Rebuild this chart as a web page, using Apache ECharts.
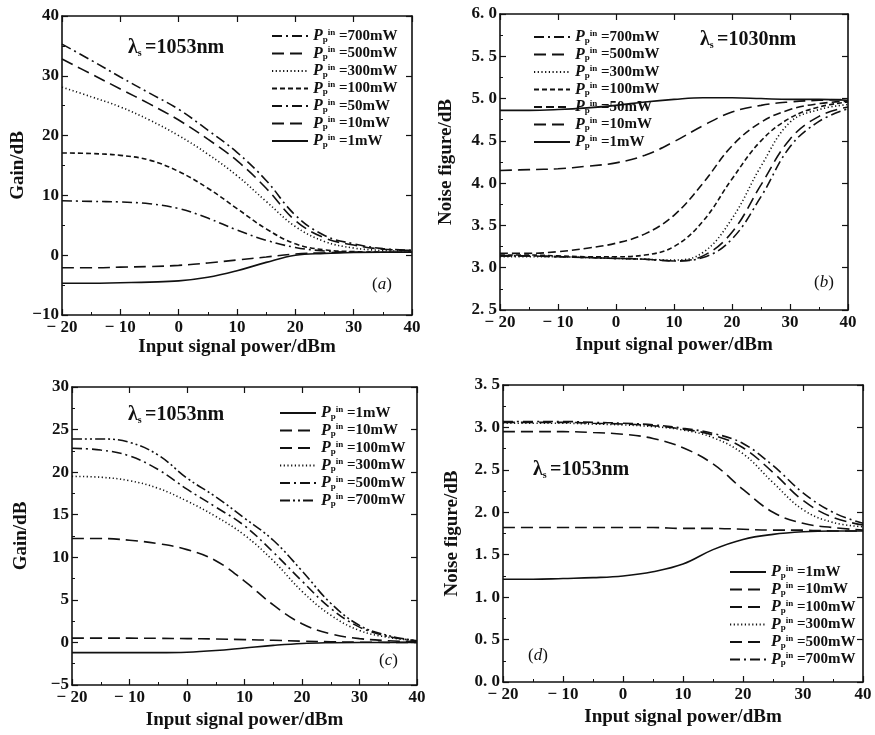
<!DOCTYPE html>
<html><head><meta charset="utf-8">
<script src="https://cdn.jsdelivr.net/npm/echarts@6/dist/echarts.min.js"></script>
<style>html,body{margin:0;padding:0;background:#fff}#c{width:875px;height:735px}</style>
</head><body><div id="c"></div>
<script>
// Input signal power (dBm) sample positions
const xs = [-20,-15,-10,-5,0,5,10,15,20,25,30,35,40];
const xTicks = [-20,-10,0,10,20,30,40];

// (a) Gain, lambda_s = 1053nm
const a_700 = [35.3,32.6,29.8,27.1,24.4,20.9,17.2,12.5,6.7,3.3,1.9,1.1,0.8];
const a_500 = [32.8,30.3,27.8,25.3,22.6,19.4,15.8,11.2,5.8,2.9,1.7,1.0,0.8];
const a_300 = [28.1,26.5,24.8,22.6,20.0,16.9,13.3,9.0,4.8,2.3,1.2,0.8,0.7];
const a_100 = [17.1,17.0,16.7,15.9,14.0,11.2,7.8,4.4,1.9,0.9,0.6,0.5,0.5];
const a_50  = [9.1,9.0,8.9,8.6,7.8,6.2,4.2,2.5,1.3,0.7,0.5,0.5,0.5];
const a_10  = [-2.1,-2.1,-2.0,-1.9,-1.7,-1.3,-0.8,-0.3,0.2,0.4,0.5,0.5,0.5];
const a_1   = [-4.7,-4.7,-4.6,-4.5,-4.3,-3.7,-2.6,-1.2,0.0,0.3,0.45,0.5,0.5];

// (b) Noise figure, lambda_s = 1030nm
const b_700 = [3.14,3.14,3.13,3.12,3.11,3.10,3.08,3.12,3.34,3.84,4.43,4.73,4.88];
const b_500 = [3.14,3.14,3.13,3.12,3.11,3.10,3.08,3.14,3.42,3.98,4.52,4.79,4.90];
const b_300 = [3.13,3.13,3.13,3.12,3.11,3.10,3.09,3.18,3.58,4.20,4.72,4.87,4.93];
const b_100 = [3.15,3.15,3.14,3.13,3.13,3.15,3.25,3.55,4.05,4.50,4.77,4.90,4.96];
const b_50  = [3.17,3.17,3.19,3.23,3.29,3.40,3.62,4.00,4.44,4.72,4.87,4.94,4.97];
const b_10  = [4.15,4.16,4.17,4.20,4.24,4.33,4.49,4.68,4.84,4.92,4.96,4.98,4.99];
const b_1   = [4.86,4.86,4.87,4.89,4.92,4.96,4.99,5.01,5.01,5.00,4.99,4.99,4.98];

// (c) Gain, lambda_s = 1053nm
const c_1   = [-1.2,-1.2,-1.2,-1.2,-1.15,-0.95,-0.65,-0.35,-0.12,-0.03,0,0,0];
const c_10  = [0.5,0.5,0.5,0.48,0.45,0.4,0.33,0.25,0.15,0.08,0.03,0.01,0];
const c_100 = [12.2,12.2,12.0,11.6,10.9,9.6,7.2,4.4,2.2,1.0,0.45,0.2,0.1];
const c_300 = [19.5,19.4,19.0,18.1,16.6,14.8,12.6,9.6,6.0,3.2,1.4,0.6,0.2];
const c_500 = [22.8,22.6,21.9,20.3,18.0,15.9,13.7,10.6,7.2,4.0,1.8,0.7,0.2];
const c_700 = [23.9,23.9,23.5,22.0,19.3,17.1,14.6,12.0,8.4,4.6,2.0,0.8,0.2];

// (d) Noise figure, lambda_s = 1053nm
const d_1   = [1.21,1.21,1.22,1.23,1.25,1.30,1.39,1.56,1.68,1.74,1.77,1.78,1.78];
const d_10  = [1.82,1.82,1.82,1.82,1.82,1.82,1.81,1.81,1.80,1.79,1.79,1.78,1.78];
const d_100 = [2.95,2.95,2.95,2.94,2.92,2.87,2.76,2.57,2.27,2.00,1.87,1.82,1.79];
const d_300 = [3.05,3.05,3.05,3.04,3.03,3.01,2.97,2.88,2.69,2.35,2.03,1.88,1.83];
const d_500 = [3.06,3.06,3.06,3.05,3.04,3.02,2.98,2.91,2.76,2.47,2.14,1.94,1.85];
const d_700 = [3.07,3.07,3.07,3.06,3.05,3.03,2.99,2.93,2.81,2.55,2.23,2.00,1.87];

const FONT = '"Liberation Serif","DejaVu Serif",serif';
const INK = '#111';
const SOLID = 'solid', LDASH=[12,6], DASH=[8,4], SDASH=[5,3], DOT=[1.2,2.5], DDOT=[10,4,2,4], DDDOT=[10,3,2,3,2,3];

const grids = [
  {left:62, top:16, width:350, height:299},
  {left:500, top:14, width:348, height:296},
  {left:72, top:387, width:345, height:298},
  {left:503, top:385, width:360, height:297}
];
const yCfg = [
  {min:-10,max:40,interval:10,name:'Gain/dB',fmt:v=>v<0?'−'+(-v):String(v),gap:34},
  {min:2.5,max:6,interval:0.5,name:'Noise figure/dB',fmt:v=>v.toFixed(1).replace('.','. '),gap:44},
  {min:-5,max:30,interval:5,name:'Gain/dB',fmt:v=>v<0?'−'+(-v):String(v),gap:41},
  {min:0,max:3.5,interval:0.5,name:'Noise figure/dB',fmt:v=>v.toFixed(1).replace('.','. '),gap:41}
];
const xNameGap = [23,26,26,26];
const panels = [
  [['a700','700',a_700,DDOT],['a500','500',a_500,LDASH],['a300','300',a_300,DOT],['a100','100',a_100,SDASH],['a50','50',a_50,DDOT],['a10','10',a_10,LDASH],['a1','1',a_1,SOLID]],
  [['b700','700',b_700,DDOT],['b500','500',b_500,LDASH],['b300','300',b_300,DOT],['b100','100',b_100,SDASH],['b50','50',b_50,DASH],['b10','10',b_10,LDASH],['b1','1',b_1,SOLID]],
  [['c1','1',c_1,SOLID],['c10','10',c_10,LDASH],['c100','100',c_100,LDASH],['c300','300',c_300,DOT],['c500','500',c_500,DDOT],['c700','700',c_700,DDDOT]],
  [['d1','1',d_1,SOLID],['d10','10',d_10,LDASH],['d100','100',d_100,LDASH],['d300','300',d_300,DOT],['d500','500',d_500,LDASH],['d700','700',d_700,DDOT]]
];
const legendPos = [
  {left:266, top:23}, {left:528, top:24}, {left:274, top:400}, {left:724, top:559}
];
const labelOf = {};
panels.forEach(p=>p.forEach(s=>{labelOf[s[0]]=s[1];}));

const xAxes=[], yAxes=[], series=[], legends=[];
grids.forEach((g,i)=>{
  const tickIn = {show:true,inside:true,length:6,lineStyle:{color:INK,width:1.2}};
  const line = {show:true,onZero:false,lineStyle:{color:INK,width:1.6}};
  xAxes.push({type:'value',gridIndex:i,min:-20,max:40,interval:10,position:'bottom',
    axisLine:line,axisTick:tickIn,splitLine:{show:false},
    minorTick:{show:true,splitNumber:2,length:3,lineStyle:{color:INK}},
    axisLabel:{color:INK,fontFamily:FONT,fontSize:17,fontWeight:'bold',margin:4,formatter:v=>v<0?'− '+(-v):String(v)},
    name:'Input signal power/dBm',nameLocation:'middle',nameGap:xNameGap[i],
    nameTextStyle:{color:INK,fontFamily:FONT,fontSize:19,fontWeight:'bold'}});
  xAxes.push({type:'value',gridIndex:i,min:-20,max:40,interval:10,position:'top',
    axisLine:line,axisTick:tickIn,axisLabel:{show:false},splitLine:{show:false}});
  const y = yCfg[i];
  yAxes.push({type:'value',gridIndex:i,min:y.min,max:y.max,interval:y.interval,position:'left',
    axisLine:line,axisTick:tickIn,splitLine:{show:false},
    minorTick:{show:true,splitNumber:2,length:3,lineStyle:{color:INK}},
    axisLabel:{color:INK,fontFamily:FONT,fontSize:17,fontWeight:'bold',margin:3,formatter:y.fmt},
    name:y.name,nameLocation:'middle',nameGap:y.gap,
    nameTextStyle:{color:INK,fontFamily:FONT,fontSize:19,fontWeight:'bold'}});
  yAxes.push({type:'value',gridIndex:i,min:y.min,max:y.max,interval:y.interval,position:'right',
    axisLine:line,axisTick:tickIn,axisLabel:{show:false},splitLine:{show:false}});
  panels[i].forEach(s=>{
    series.push({name:s[0],type:'line',xAxisIndex:2*i,yAxisIndex:2*i,
      data:xs.map((x,k)=>[x,s[2][k]]),smooth:0.4,showSymbol:false,symbol:'none',
      lineStyle:{color:INK,width:1.6,type:s[3]},itemStyle:{color:INK},silent:true,animation:false});
  });
  legends.push({orient:'vertical',left:legendPos[i].left,top:legendPos[i].top,
    data:panels[i].map(s=>s[0]),itemWidth:36,itemHeight:10,itemGap:1.5,
    selectedMode:false,
    itemStyle:{opacity:0,borderWidth:0},
    formatter:name=>'{P|P}{sub|p}{sup|in} {t|='+labelOf[name]+'mW}',
    textStyle:{color:INK,fontFamily:FONT,fontSize:15,fontWeight:'bold',
      rich:{P:{fontFamily:FONT,fontStyle:'italic',fontWeight:'bold',fontSize:16,color:INK},
            sub:{fontFamily:FONT,fontSize:9,fontWeight:'bold',color:INK,verticalAlign:'bottom',padding:[6,0,0,0]},
            sup:{fontFamily:FONT,fontSize:9,fontWeight:'bold',color:INK,verticalAlign:'top',padding:[0,0,6,0]},
            t:{fontFamily:FONT,fontSize:15,fontWeight:'bold',color:INK}}}});
});

const lam = (left,top,txt)=>({type:'text',left:left,top:top,
  style:{text:'{l|λ}{s|s} {t|='+txt+'}',fill:INK,
    rich:{l:{fontFamily:FONT,fontSize:20,fontWeight:'bold',fill:INK},
          s:{fontFamily:FONT,fontSize:10,fontWeight:'bold',fill:INK,verticalAlign:'bottom',padding:[9,0,0,0]},
          t:{fontFamily:FONT,fontSize:20,fontWeight:'bold',fill:INK}}}});
const tag = (left,top,ch)=>({type:'text',left:left,top:top,
  style:{text:'({i|'+ch+'})',fill:INK,font:'17px '+FONT,
    rich:{i:{fontFamily:FONT,fontStyle:'italic',fontSize:17,fill:INK}}}});

const chart = echarts.init(document.getElementById('c'),null,{renderer:'canvas'});
chart.setOption({
  backgroundColor:'#fff',animation:false,
  grid:grids,xAxis:xAxes,yAxis:yAxes,series:series,legend:legends,
  graphic:[
    lam(128,38,'1053nm'), lam(700,30,'1030nm'), lam(128,405,'1053nm'), lam(533,460,'1053nm'),
    tag(372,276,'a'), tag(814,274,'b'), tag(379,652,'c'), tag(528,647,'d')
  ]
});
</script></body></html>
